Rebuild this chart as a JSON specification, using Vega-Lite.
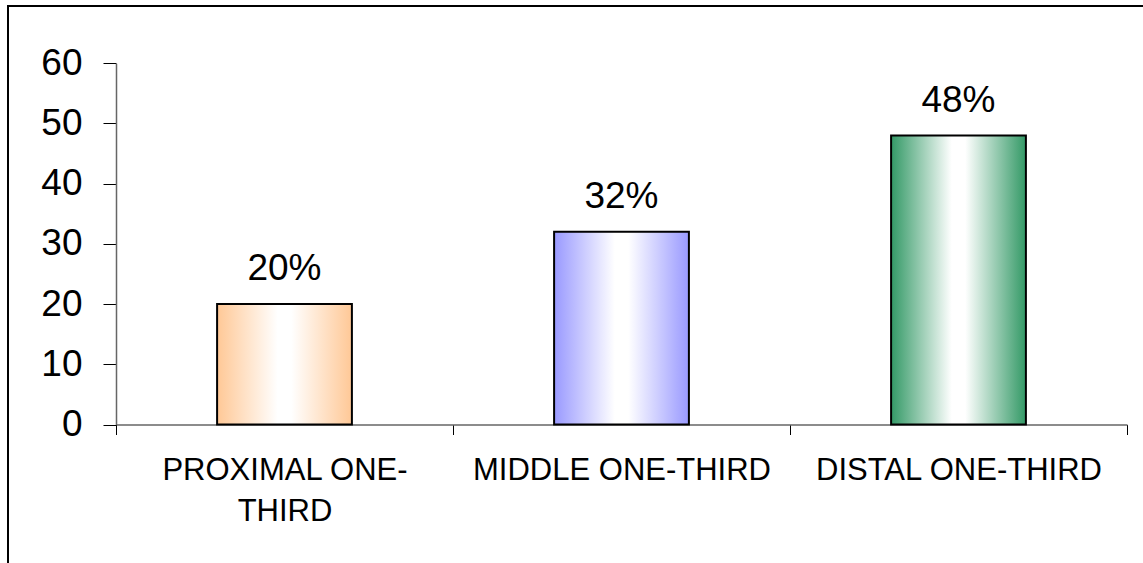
{
  "$schema": "https://vega.github.io/schema/vega-lite/v6.json",
  "width": 1136,
  "height": 557,
  "autosize": {"type": "none"},
  "padding": {"left": 7, "top": 6, "right": 0, "bottom": 0},
  "background": "white",
  "config": {"view": {"stroke": null}, "font": "Liberation Sans"},
  "data": {
    "values": [
      {"site": "PROXIMAL ONE-THIRD", "value": 20, "label": "20%"},
      {"site": "MIDDLE ONE-THIRD", "value": 32, "label": "32%"},
      {"site": "DISTAL ONE-THIRD", "value": 48, "label": "48%"}
    ]
  },
  "layer": [
    {
      "encoding": {
        "x": {
          "field": "site",
          "type": "nominal",
          "scale": {
            "domain": ["PROXIMAL ONE-THIRD", "MIDDLE ONE-THIRD", "DISTAL ONE-THIRD"],
            "range": [109, 1120],
            "paddingInner": 0,
            "paddingOuter": 0
          },
          "axis": {
            "orient": "bottom",
            "offset": -138.5,
            "title": null,
            "tickBand": "extent",
            "tickSize": 10,
            "tickColor": "#000",
            "domainColor": "#666",
            "domainWidth": 1.5,
            "labelFontSize": 31,
            "labelColor": "#000",
            "labelPadding": 20.5,
            "labelAngle": 0,
            "labelLimit": 0,
            "labelOverlap": false,
            "labelLineHeight": 41,
            "labelExpr": "datum.value == 'PROXIMAL ONE-THIRD' ? ['PROXIMAL ONE-', 'THIRD'] : datum.label"
          }
        },
        "y": {
          "field": "value",
          "type": "quantitative",
          "scale": {"domain": [0, 60], "range": [418.5, 57.3], "nice": false, "zero": true},
          "axis": {
            "orient": "left",
            "offset": -109,
            "title": null,
            "values": [0, 10, 20, 30, 40, 50, 60],
            "grid": false,
            "tickSize": 13,
            "tickColor": "#000",
            "domainColor": "#666",
            "domainWidth": 1.5,
            "labelFontSize": 37,
            "labelColor": "#000",
            "labelPadding": 21
          }
        }
      },
      "layer": [
        {
          "transform": [{"filter": "datum.site == 'PROXIMAL ONE-THIRD'"}],
          "mark": {
            "type": "bar",
            "width": {"band": 0.4},
            "stroke": "#000",
            "strokeWidth": 2,
            "color": {
              "gradient": "linear", "x1": 0, "x2": 1, "y1": 0, "y2": 0,
              "stops": [
                {"offset": 0, "color": "#FFC896"},
                {"offset": 0.45, "color": "#FFFFFF"},
                {"offset": 0.55, "color": "#FFFFFF"},
                {"offset": 1, "color": "#FFC896"}
              ]
            }
          }
        },
        {
          "transform": [{"filter": "datum.site == 'MIDDLE ONE-THIRD'"}],
          "mark": {
            "type": "bar",
            "width": {"band": 0.4},
            "stroke": "#000",
            "strokeWidth": 2,
            "color": {
              "gradient": "linear", "x1": 0, "x2": 1, "y1": 0, "y2": 0,
              "stops": [
                {"offset": 0, "color": "#9999FF"},
                {"offset": 0.45, "color": "#FFFFFF"},
                {"offset": 0.55, "color": "#FFFFFF"},
                {"offset": 1, "color": "#9999FF"}
              ]
            }
          }
        },
        {
          "transform": [{"filter": "datum.site == 'DISTAL ONE-THIRD'"}],
          "mark": {
            "type": "bar",
            "width": {"band": 0.4},
            "stroke": "#000",
            "strokeWidth": 2,
            "color": {
              "gradient": "linear", "x1": 0, "x2": 1, "y1": 0, "y2": 0,
              "stops": [
                {"offset": 0, "color": "#339966"},
                {"offset": 0.45, "color": "#FFFFFF"},
                {"offset": 0.55, "color": "#FFFFFF"},
                {"offset": 1, "color": "#339966"}
              ]
            }
          }
        },
        {
          "mark": {
            "type": "text",
            "baseline": "alphabetic",
            "align": "center",
            "dy": -24,
            "fontSize": 37,
            "color": "#000"
          },
          "encoding": {"text": {"field": "label"}}
        }
      ]
    },
    {
      "mark": {"type": "point", "opacity": 0},
      "encoding": {
        "x": {
          "field": "value",
          "type": "quantitative",
          "scale": {"domain": [-0.00088, 1], "nice": false, "zero": false},
          "axis": {
            "orient": "top",
            "translate": 0,
            "values": [0],
            "grid": true,
            "gridColor": "#000",
            "gridWidth": 2,
            "gridOpacity": 1,
            "domainColor": "#000",
            "domainWidth": 2,
            "ticks": false,
            "labels": false,
            "title": null
          }
        }
      }
    }
  ],
  "resolve": {"scale": {"x": "independent"}, "axis": {"x": "independent"}}
}
